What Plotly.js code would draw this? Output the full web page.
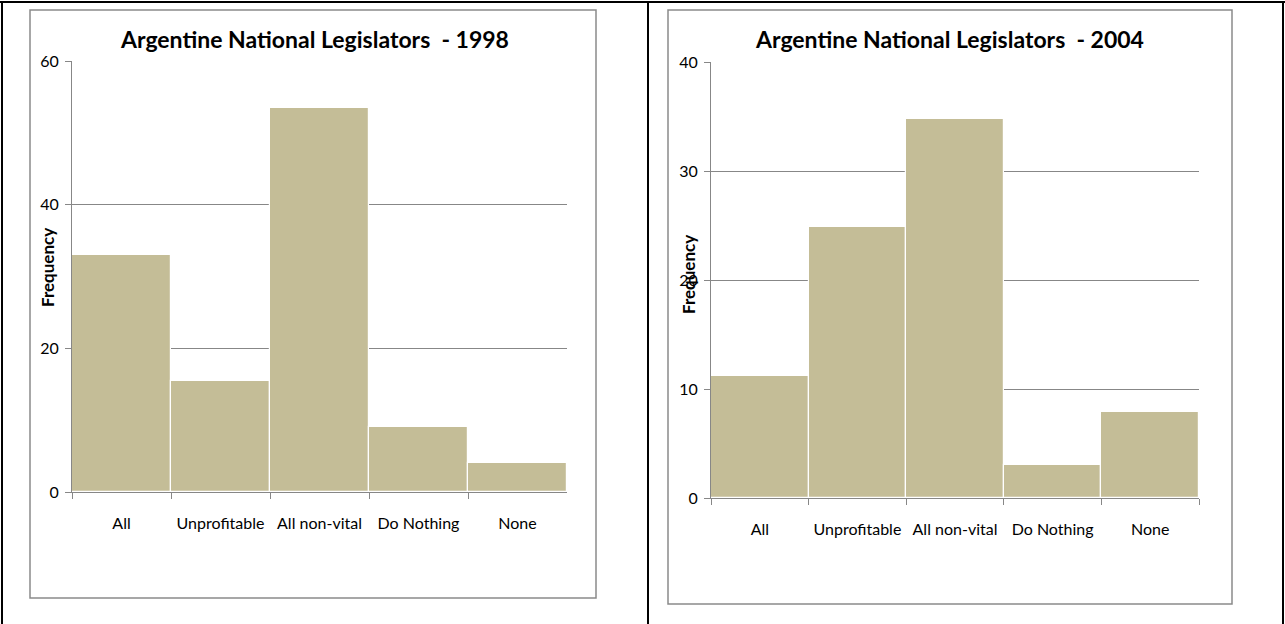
<!DOCTYPE html>
<html>
<head>
<meta charset="utf-8">
<script src="https://cdn.plot.ly/plotly-3.0.1.min.js"></script>
<style>
  html, body { margin: 0; padding: 0; background: #fff; }
  #chart { width: 1285px; height: 624px; }
</style>
</head>
<body>
<div id="chart"></div>
<script>
// ---- data ----
const categories = ["All", "Unprofitable", "All non-vital", "Do Nothing", "None"];
const freq1998 = [33, 15.4, 53.5, 9, 4];
const freq2004 = [11.2, 24.9, 34.8, 3, 7.9];
const title1998 = "Argentine National Legislators  - 1998";
const title2004 = "Argentine National Legislators  - 2004";
const yTicks1998 = [0, 20, 40, 60];
const yTicks2004 = [0, 10, 20, 30, 40];
const yTitle = "Frequency";

// ---- layout helpers (pixel -> paper) ----
const W = 1285, H = 624;
const px = x => x / W;
const py = y => 1 - y / H;

const barColor = "#C4BD97";
const gridColor = "#878787";
const font = "Lato, 'Open Sans', sans-serif";

function bar(y, xa, ya) {
  return {
    type: "bar", x: categories, y: y, xaxis: xa, yaxis: ya,
    marker: { color: barColor, line: { color: "#ffffff", width: 1.2 } },
    hoverinfo: "x+y", showlegend: false
  };
}

function xaxisDef(x0, x1, anchor) {
  return {
    domain: [px(x0), px(x1)], anchor: anchor, type: "category",
    tickson: "boundaries", ticks: "outside", ticklen: 6, tickcolor: gridColor,
    showline: true, linecolor: gridColor, linewidth: 1, showgrid: false,
    tickfont: { family: font, size: 16, color: "#000" },
    ticklabelstandoff: 17, fixedrange: true, automargin: false
  };
}
function yaxisDef(y0, y1, anchor, maxv, tickvals) {
  return {
    domain: [py(y1), py(y0)], anchor: anchor, range: [0, maxv],
    tickvals: tickvals, ticks: "outside", ticklen: 6, tickcolor: gridColor,
    showline: true, linecolor: gridColor, linewidth: 1,
    showgrid: true, gridcolor: gridColor, gridwidth: 1, zeroline: false,
    tickfont: { family: font, size: 16, color: "#000" },
    ticklabelstandoff: 3, fixedrange: true, automargin: false
  };
}

const layout = {
  width: W, height: H,
  margin: { l: 0, r: 0, t: 0, b: 0 },
  paper_bgcolor: "#fff", plot_bgcolor: "rgba(0,0,0,0)",
  bargap: 0,
  xaxis: xaxisDef(72, 567, "y"),
  yaxis: yaxisDef(61, 492, "x", 60, yTicks1998),
  xaxis2: xaxisDef(711, 1199, "y2"),
  yaxis2: yaxisDef(62, 498, "x2", 40, yTicks2004),
  annotations: [
    { text: "<b>" + title1998 + "</b>", xref: "paper", yref: "paper", x: px(314), y: py(39),
      xanchor: "center", yanchor: "middle", showarrow: false, font: { family: font, size: 23, color: "#000" } },
    { text: "<b>" + title2004 + "</b>", xref: "paper", yref: "paper", x: px(949), y: py(39),
      xanchor: "center", yanchor: "middle", showarrow: false, font: { family: font, size: 23, color: "#000" } },
    { text: "<b>" + yTitle + "</b>", xref: "paper", yref: "paper", x: px(47), y: py(268),
      xanchor: "center", yanchor: "middle", textangle: -90, showarrow: false, font: { family: font, size: 17, color: "#000" } },
    { text: "<b>" + yTitle + "</b>", xref: "paper", yref: "paper", x: px(688), y: py(275),
      xanchor: "center", yanchor: "middle", textangle: -90, showarrow: false, font: { family: font, size: 17, color: "#000" } }
  ],
  shapes: [
    // outer table frame (black)
    { type: "line", xref: "paper", yref: "paper", x0: 0, x1: 1, y0: py(2), y1: py(2), line: { color: "#000", width: 2 } },
    { type: "line", xref: "paper", yref: "paper", x0: px(2), x1: px(2), y0: 0, y1: py(1), line: { color: "#000", width: 2 } },
    { type: "line", xref: "paper", yref: "paper", x0: px(648), x1: px(648), y0: 0, y1: py(1), line: { color: "#000", width: 2 } },
    { type: "line", xref: "paper", yref: "paper", x0: px(1283), x1: px(1283), y0: 0, y1: py(1), line: { color: "#000", width: 2 } },
    // chart area borders (grey)
    { type: "rect", xref: "paper", yref: "paper", x0: px(30), x1: px(596), y0: py(598), y1: py(10), line: { color: "#8a8a8a", width: 1.5 } },
    { type: "rect", xref: "paper", yref: "paper", x0: px(668), x1: px(1232), y0: py(604), y1: py(10), line: { color: "#8a8a8a", width: 1.5 } }
  ]
};

Plotly.newPlot("chart", [bar(freq1998, "x", "y"), bar(freq2004, "x2", "y2")], layout,
  { displayModeBar: false, staticPlot: false, responsive: false });
</script>
</body>
</html>
